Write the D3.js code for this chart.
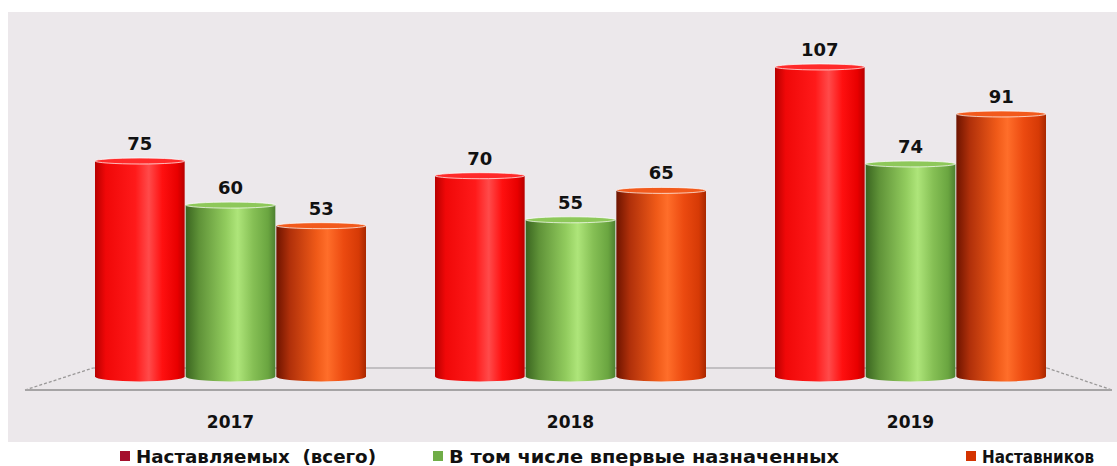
<!DOCTYPE html>
<html><head><meta charset="utf-8">
<script src="https://cdn.jsdelivr.net/npm/d3@7/dist/d3.min.js"></script>
<style>body{margin:0;background:#fff;}svg{display:block;}</style>
</head><body>
<svg id="chart" width="1117" height="466"></svg>
<script>
const years = ["2017", "2018", "2019"];
const seriesNames = ["Наставляемых  (всего)", "В том числе впервые назначенных", "Наставников"];
const mentees = [75, 70, 107];
const firstTime = [60, 55, 74];
const mentors = [53, 65, 91];

const seriesValues = [mentees, firstTime, mentors];
const svg = d3.select("#chart");
const defs = svg.append("defs");

const grads = [
  [[0,"#b80000"],[0.12,"#f00808"],[0.45,"#ff1a1a"],[0.6,"#ff4a4a"],[0.75,"#ff1010"],[0.92,"#e80000"],[1,"#b80000"]],
  [[0,"#3a6520"],[0.15,"#5f9238"],[0.45,"#92cc5e"],[0.58,"#aee57a"],[0.75,"#86c055"],[0.92,"#6aa540"],[1,"#4e8030"]],
  [[0,"#6e1400"],[0.15,"#b0300a"],[0.45,"#f05a18"],[0.57,"#ff6e2a"],[0.75,"#ec4a10"],[0.92,"#d63a06"],[1,"#a82800"]]
];
const tops = ["#ff2a2a", "#8ec85a", "#f25a1c"];
const legendColors = ["#a50f2d", "#70ad47", "#d43300"];
grads.forEach((g, i) => {
  const lg = defs.append("linearGradient").attr("id", "g" + i).attr("x1", "0%").attr("x2", "100%").attr("y1", "0%").attr("y2", "0%");
  g.forEach(s => lg.append("stop").attr("offset", s[0]).attr("stop-color", s[1]));
});

// background panel
svg.append("rect").attr("x", 8).attr("y", 12).attr("width", 1109).attr("height", 430).attr("fill", "#ece8eb");

const x0 = d3.scaleBand().domain(years).range([60.5, 1080.5]).paddingInner(0.2).paddingOuter(0.1);
const x1 = d3.scaleBand().domain(d3.range(3)).range([0, x0.bandwidth()]).padding(0);
const y = d3.scaleLinear().domain([0, 120]).range([381.5, 28.7]);

// floor
const fy = 390, by = 368;
svg.append("polygon").attr("points", `25,${fy} 93,${by} 1047,${by} 1112,${fy}`).attr("fill", "#ebe7ea");
svg.append("line").attr("x1", 93).attr("x2", 1047).attr("y1", by).attr("y2", by).attr("stroke", "#b5b2b4").attr("stroke-width", 1.5);
svg.append("line").attr("x1", 25).attr("x2", 93).attr("y1", fy).attr("y2", by).attr("stroke", "#9a9898").attr("stroke-width", 1.3).attr("stroke-dasharray", "3,2");
svg.append("line").attr("x1", 1047).attr("x2", 1112).attr("y1", by).attr("y2", fy).attr("stroke", "#9a9898").attr("stroke-width", 1.3).attr("stroke-dasharray", "3,2");
svg.append("line").attr("x1", 25).attr("x2", 1112).attr("y1", fy).attr("y2", fy).attr("stroke", "#a6a4a5").attr("stroke-width", 2);

const ryTop = 3, ryBot = 5;
years.forEach((yr, gi) => {
  seriesValues.forEach((vals, si) => {
    const v = vals[gi];
    const xl = x0(yr) + x1(si) + 0.5, w = x1.bandwidth() - 1;
    const yt = y(v), yb = y(0);
    const cx = xl + w / 2, rx = w / 2;
    const g = svg.append("g");
    g.append("path")
      .attr("d", `M${xl},${yt} L${xl},${yb - ryBot} A${rx},${ryBot} 0 0 0 ${xl + w},${yb - ryBot} L${xl + w},${yt} Z`)
      .attr("fill", `url(#g${si})`);
    g.append("ellipse").attr("cx", cx).attr("cy", yt).attr("rx", rx).attr("ry", ryTop)
      .attr("fill", tops[si]).attr("stroke", "#ffffff").attr("stroke-opacity", 0.7).attr("stroke-width", 1);
    svg.append("text").attr("x", cx).attr("y", yt - 11).attr("text-anchor", "middle")
      .attr("font-family", "DejaVu Sans").attr("font-weight", "bold").attr("font-size", 18)
      .attr("fill", "#111").text(v);
  });
  svg.append("text").attr("x", x0(yr) + x0.bandwidth() / 2).attr("y", 428).attr("text-anchor", "middle")
    .attr("font-family", "DejaVu Sans").attr("font-weight", "bold").attr("font-size", 17)
    .attr("fill", "#111").text(yr);
});

// legend
const legX = [120, 433, 966];
const legW = [240, 390, 112];
seriesNames.forEach((n, i) => {
  svg.append("rect").attr("x", legX[i]).attr("y", 451).attr("width", 10).attr("height", 10).attr("fill", legendColors[i]);
  svg.append("text").attr("x", legX[i] + 16).attr("y", 463).attr("font-family", "DejaVu Sans Condensed, DejaVu Sans")
    .attr("font-weight", "bold").attr("font-size", 18).attr("fill", "#111")
    .attr("textLength", legW[i]).attr("lengthAdjust", "spacingAndGlyphs")
    .attr("xml:space", "preserve").style("white-space", "pre").text(n);
});
</script>
</body></html>
